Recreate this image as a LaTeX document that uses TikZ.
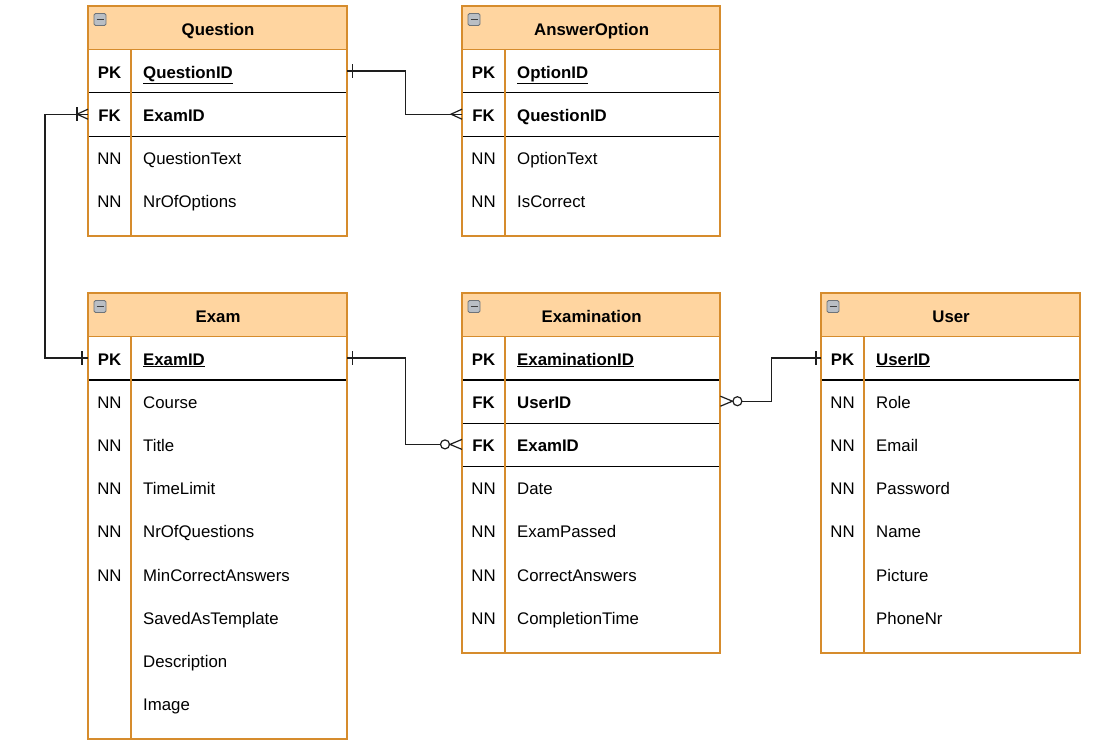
\documentclass[tikz,border=0pt]{standalone}
\usepackage{fontspec}
\setmainfont{Liberation Sans}
\usetikzlibrary{calc}

\definecolor{ebord}{RGB}{214,140,45}
\definecolor{hdrfill}{RGB}{255,213,160}
\definecolor{linkc}{RGB}{30,30,30}
\definecolor{iconfill}{RGB}{185,190,196}
\definecolor{iconedge}{RGB}{110,115,120}

\tikzset{
  x=1pt, y=-1pt,
  every node/.style={font=\fontsize{16.8}{20}\selectfont},
  bodybox/.style={draw=ebord, fill=white, line width=1.2pt},
  hdrbox/.style={draw=ebord, fill=hdrfill, line width=1.2pt, anchor=north west,
    minimum height=43.2, inner sep=0, text height=14, text depth=0,
    font=\fontsize{16.8}{20}\selectfont\bfseries},
  rowbox/.style={anchor=north west, minimum height=43.2, inner sep=0, draw=none},
  keytxt/.style={inner sep=0, anchor=center, text height=14, text depth=0},
  fldtxt/.style={inner sep=0, anchor=west, text height=14, text depth=0},
  septhin/.style={draw=black, line width=1pt},
  septhick/.style={draw=black, line width=2pt},
  colsep/.style={draw=ebord, line width=1.2pt},
  frameline/.style={draw=ebord, line width=1.2pt},
  minusbox/.style={draw=iconedge, fill=iconfill, rounded corners=1.5pt,
    line width=0.8pt, minimum width=12, minimum height=12, inner sep=0},
  minusbar/.style={draw=black!75, line width=1.6pt},
  link/.style={draw=linkc, line width=1.2pt},
}

% table body and header: name, x, y, width, height, title
\newcommand{\ehead}[6]{%
  \draw[bodybox] (#2,#3) rectangle ++(#4,#5);
  \node[hdrbox, minimum width=#4] (#1) at (#2,#3) {#6};
  \node[minusbox] (#1-icon) at ($(#1.north west)+(12,13.5)$) {};
  \draw[minusbar] ($(#1-icon.center)+(-3.5,0)$) -- ($(#1-icon.center)+(3.5,0)$);
}
% one attribute row: name, x, y, width, key, field
\newcommand{\erow}[6]{%
  \node[rowbox, minimum width=#4] (#1) at (#2,#3) {};
  \node[keytxt] (#1-k) at ($(#1.west)+(21.5,0)$) {#5};
  \node[fldtxt] (#1-f) at ($(#1.west)+(55,0)$) {#6};
}
% column separator and outline: x, y, width, height
\newcommand{\eframe}[4]{%
  \draw[colsep] (#1+43,#2+43.2) -- (#1+43,#2+#4);
  \draw[frameline] (#1,#2) rectangle ++(#3,#4);
}

\begin{document}
\begin{tikzpicture}
\useasboundingbox[fill=white] (0,0) rectangle (1106,747);

% ---------- Question ----------
\ehead{qt}{88}{6}{259}{230}{Question}
\erow{qpk}{88}{49.2}{259}{\textbf{PK}}{\underline{\textbf{QuestionID}}}
\erow{qfk}{88}{92.4}{259}{\textbf{FK}}{\textbf{ExamID}}
\erow{q3}{88}{135.6}{259}{NN}{QuestionText}
\erow{q4}{88}{178.8}{259}{NN}{NrOfOptions}
\draw[septhin] (qpk.south west) -- (qpk.south east);
\draw[septhin] (qfk.south west) -- (qfk.south east);
\eframe{88}{6}{259}{230}

% ---------- AnswerOption ----------
\ehead{at}{462}{6}{258}{230}{AnswerOption}
\erow{apk}{462}{49.2}{258}{\textbf{PK}}{\underline{\textbf{OptionID}}}
\erow{afk}{462}{92.4}{258}{\textbf{FK}}{\textbf{QuestionID}}
\erow{a3}{462}{135.6}{258}{NN}{OptionText}
\erow{a4}{462}{178.8}{258}{NN}{IsCorrect}
\draw[septhin] (apk.south west) -- (apk.south east);
\draw[septhin] (afk.south west) -- (afk.south east);
\eframe{462}{6}{258}{230}

% ---------- Exam ----------
\ehead{et}{88}{293}{259}{446}{Exam}
\erow{epk}{88}{336.2}{259}{\textbf{PK}}{\underline{\textbf{ExamID}}}
\erow{e2}{88}{379.4}{259}{NN}{Course}
\erow{e3}{88}{422.6}{259}{NN}{Title}
\erow{e4}{88}{465.8}{259}{NN}{TimeLimit}
\erow{e5}{88}{509.0}{259}{NN}{NrOfQuestions}
\erow{e6}{88}{552.2}{259}{NN}{MinCorrectAnswers}
\erow{e7}{88}{595.4}{259}{}{SavedAsTemplate}
\erow{e8}{88}{638.6}{259}{}{Description}
\erow{e9}{88}{681.8}{259}{}{Image}
\draw[septhick] (epk.south west) -- (epk.south east);
\eframe{88}{293}{259}{446}

% ---------- Examination ----------
\ehead{xt}{462}{293}{258}{360}{Examination}
\erow{xpk}{462}{336.2}{258}{\textbf{PK}}{\underline{\textbf{ExaminationID}}}
\erow{xfka}{462}{379.4}{258}{\textbf{FK}}{\textbf{UserID}}
\erow{xfkb}{462}{422.6}{258}{\textbf{FK}}{\textbf{ExamID}}
\erow{x4}{462}{465.8}{258}{NN}{Date}
\erow{x5}{462}{509.0}{258}{NN}{ExamPassed}
\erow{x6}{462}{552.2}{258}{NN}{CorrectAnswers}
\erow{x7}{462}{595.4}{258}{NN}{CompletionTime}
\draw[septhick] (xpk.south west) -- (xpk.south east);
\draw[septhin] (xfka.south west) -- (xfka.south east);
\draw[septhin] (xfkb.south west) -- (xfkb.south east);
\eframe{462}{293}{258}{360}

% ---------- User ----------
\ehead{ut}{821}{293}{259}{360}{User}
\erow{upk}{821}{336.2}{259}{\textbf{PK}}{\underline{\textbf{UserID}}}
\erow{u2}{821}{379.4}{259}{NN}{Role}
\erow{u3}{821}{422.6}{259}{NN}{Email}
\erow{u4}{821}{465.8}{259}{NN}{Password}
\erow{u5}{821}{509.0}{259}{NN}{Name}
\erow{u6}{821}{552.2}{259}{}{Picture}
\erow{u7}{821}{595.4}{259}{}{PhoneNr}
\draw[septhick] (upk.south west) -- (upk.south east);
\eframe{821}{293}{259}{360}

% ---------- relationships ----------
% Question (one) -- AnswerOption (many)
\draw[link] (qpk.east) -- ($(qpk.east)+(58,0)$) |- (afk.west);
\draw[link] ($(qpk.east)+(5,-7)$) -- ($(qpk.east)+(5,7)$);
\draw[link] ($(afk.west)+(0,-5)$) -- ($(afk.west)+(-11,0)$) -- ($(afk.west)+(0,5)$);

% Exam (one) -- Question (one or many)
\draw[link] (epk.west) -- ($(epk.west)+(-43,0)$) |- (qfk.west);
\draw[link] ($(epk.west)+(-6,-7)$) -- ($(epk.west)+(-6,7)$);
\draw[link] ($(qfk.west)+(0,-5)$) -- ($(qfk.west)+(-11,0)$) -- ($(qfk.west)+(0,5)$);
\draw[link] ($(qfk.west)+(-11,-7)$) -- ($(qfk.west)+(-11,7)$);

% Exam (one) -- Examination (zero or many)
\draw[link] (epk.east) -- ($(epk.east)+(58,0)$) |- ($(xfkb.west)+(-21.5,0)$);
\draw[link] ($(epk.east)+(5,-7)$) -- ($(epk.east)+(5,7)$);
\draw[link, fill=white] ($(xfkb.west)+(-17,0)$) circle (4.5);
\draw[link] ($(xfkb.west)+(0,-5)$) -- ($(xfkb.west)+(-12,0)$) -- ($(xfkb.west)+(0,5)$);

% User (one) -- Examination (zero or many)
\draw[link] ($(xfka.east)+(21.5,0)$) -- ($(xfka.east)+(51,0)$) |- (upk.west);
\draw[link, fill=white] ($(xfka.east)+(17,0)$) circle (4.5);
\draw[link] ($(xfka.east)+(0,-5)$) -- ($(xfka.east)+(12,0)$) -- ($(xfka.east)+(0,5)$);
\draw[link] ($(upk.west)+(-5,-7)$) -- ($(upk.west)+(-5,7)$);
\end{tikzpicture}
\end{document}
